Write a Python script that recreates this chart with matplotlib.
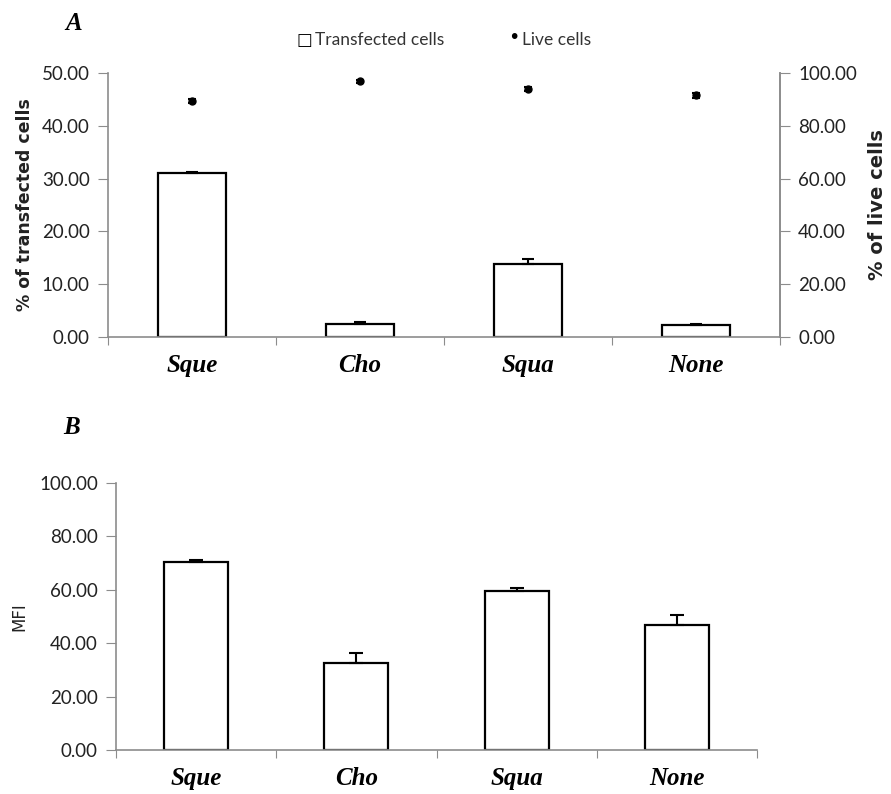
import matplotlib.pyplot as plt
import numpy as np

categories = ['Sque', 'Cho', 'Squa', 'None']

# panel A
transfected = [31.0, 2.5, 13.9, 2.2]
transfected_err = [0.3, 0.4, 0.8, 0.3]
live = [89.5, 96.8, 94.0, 91.5]
live_err = [0.8, 0.6, 0.8, 1.0]

# panel B
mfi = [70.5, 32.5, 59.5, 47.0]
mfi_err = [0.5, 3.8, 1.3, 3.4]

AXIS_GRAY = '#8c8c8c'
TICK_FONT = 'Lato'
TEXT_COL = '#222222'
CAT_FONT = dict(family='Liberation Serif', style='italic', weight='bold', size=18)


def style_axes(ax, yticks, fmt='{:.2f}', right=False):
    x = np.arange(len(categories))
    ax.set_xlim(-0.5, len(categories) - 0.5)
    ax.set_xticks(np.arange(len(categories) + 1) - 0.5)
    ax.set_xticklabels([])
    ax.set_xticks(x, minor=True)
    ax.set_xticklabels(categories, minor=True, fontdict=CAT_FONT)
    ax.tick_params(axis='x', which='major', length=6, color=AXIS_GRAY, direction='out')
    ax.tick_params(axis='x', which='minor', length=0, pad=12)
    ax.set_yticks(yticks)
    ax.set_yticklabels([fmt.format(v) for v in yticks], family=TICK_FONT, fontsize=13.5, color=TEXT_COL)
    ax.tick_params(axis='y', length=7, color=AXIS_GRAY, direction='out', pad=6)
    ax.spines['top'].set_visible(False)
    ax.spines['right'].set_visible(right)
    for s in ('left', 'bottom', 'right'):
        ax.spines[s].set_color(AXIS_GRAY)
        ax.spines[s].set_linewidth(1.2)


fig = plt.figure(figsize=(8.91, 7.94), dpi=100)

# ---- panel A ----
axA = fig.add_axes([0.1212, 0.5756, 0.7542, 0.3325])
x = np.arange(len(categories))
axA.bar(x, transfected, width=0.4, color='white', edgecolor='black', linewidth=1.6, zorder=2)
axA.errorbar(x, transfected, yerr=[np.zeros(4), transfected_err], fmt='none',
             ecolor='black', elinewidth=1.5, capsize=4, capthick=1.5, zorder=3)
axA.set_ylim(0, 50)
style_axes(axA, np.arange(0, 51, 10), right=True)
axA.set_ylabel('% of transfected cells', family='DejaVu Sans', weight='bold', fontsize=12.5,
               labelpad=6, color=TEXT_COL)

axA2 = axA.twinx()
axA2.errorbar(x, live, yerr=live_err, fmt='o', color='black', markersize=5,
              elinewidth=1.5, capsize=3, capthick=1.5, zorder=4)
axA2.set_ylim(0, 100)
axA2.spines['top'].set_visible(False)
axA2.spines['right'].set_color(AXIS_GRAY)
axA2.spines['right'].set_linewidth(1.2)
axA2.spines['left'].set_visible(False)
axA2.spines['bottom'].set_visible(False)
yt = np.arange(0, 101, 20)
axA2.set_yticks(yt)
axA2.set_yticklabels(['{:.2f}'.format(v) for v in yt], family=TICK_FONT, fontsize=13.5, color=TEXT_COL)
axA2.tick_params(axis='y', length=7, color=AXIS_GRAY, direction='out', pad=6)
axA2.set_ylabel('% of live cells', family='DejaVu Sans', weight='bold', fontsize=14,
                labelpad=8, color=TEXT_COL)

# legend
fig.text(0.333, 0.949, '\u25a1', family='DejaVu Sans', fontsize=12, weight='bold',
         va='center', ha='left')
fig.text(0.354, 0.949, 'Transfected cells', family=TICK_FONT, fontsize=12.5, va='center', ha='left',
         color='#333333')
fig.text(0.570, 0.953, '\u2022', family='DejaVu Sans', fontsize=14, va='center', ha='left')
fig.text(0.586, 0.949, 'Live cells', family=TICK_FONT, fontsize=12.5, va='center', ha='left',
         color='#333333')

fig.text(0.073, 0.971, 'A', family='Liberation Serif', style='italic', weight='bold', fontsize=18,
         va='center')

# ---- panel B ----
axB = fig.add_axes([0.1302, 0.0554, 0.7194, 0.3363])
axB.bar(x, mfi, width=0.4, color='white', edgecolor='black', linewidth=1.6, zorder=2)
axB.errorbar(x, mfi, yerr=[np.zeros(4), mfi_err], fmt='none',
             ecolor='black', elinewidth=1.5, capsize=5, capthick=1.5, zorder=3)
axB.set_ylim(0, 100)
style_axes(axB, np.arange(0, 101, 20))
axB.set_ylabel('MFI', family='DejaVu Sans', fontsize=12, labelpad=8, color=TEXT_COL)

fig.text(0.071, 0.461, 'B', family='Liberation Serif', style='italic', weight='bold', fontsize=18,
         va='center')

fig.savefig('out.png', dpi=100, facecolor='white')
